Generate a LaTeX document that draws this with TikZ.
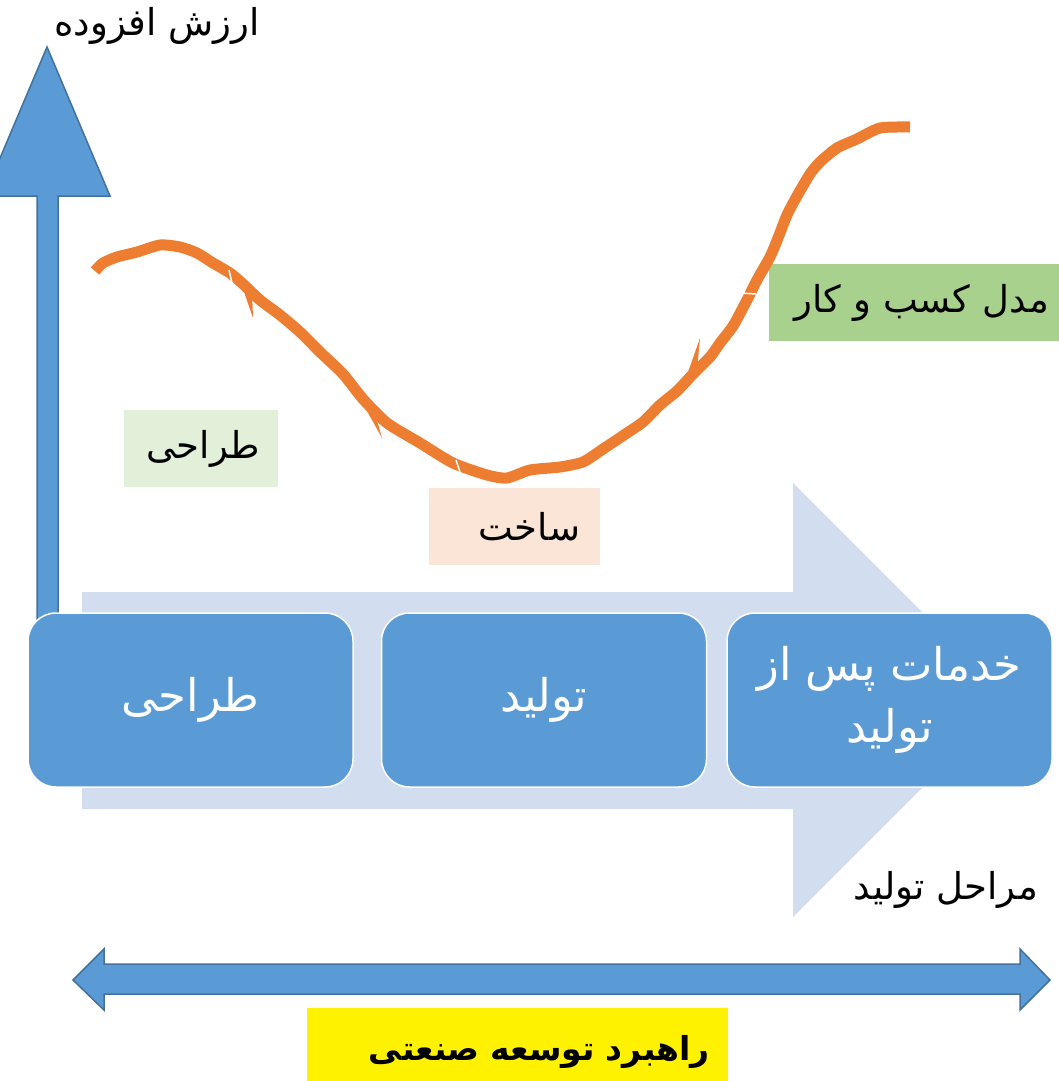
\documentclass[tikz,border=0pt]{standalone}
\usepackage{fontspec}
\newfontfamily\arabicfont[Script=Arabic]{DejaVu Sans}
\TeXXeTstate=1
\definecolor{boxblue}{HTML}{5B9BD5}
\definecolor{edgeblue}{HTML}{41719C}
\definecolor{paleblue}{HTML}{D2DEEF}
\definecolor{curveorange}{HTML}{ED7D31}
\definecolor{leafgreen}{HTML}{A9D18E}
\definecolor{palegreen}{HTML}{E2F0D9}
\definecolor{peach}{HTML}{FBE5D6}

\begin{document}
\begin{tikzpicture}[x=1pt,y=-1pt,
    stagebox/.style={draw=white, line width=1.5pt, fill=boxblue, rounded corners=28pt, minimum width=325pt, minimum height=174pt, text=white, align=center, font=\arabicfont\fontsize{45}{62}\selectfont},
    tagbox/.style={inner sep=0pt, minimum height=77pt, align=right, font=\arabicfont\fontsize{37}{44}\selectfont}]
    \useasboundingbox (0,0) rectangle (1059,1081);
    \clip (0,0) rectangle (1059,1081);
    \fill[paleblue] (82,592) -- (793,592) -- (793,483) -- (1010,700) -- (793,917) -- (793,809) -- (82,809) -- cycle; % stages arrow
    \draw[fill=boxblue, draw=edgeblue, line width=1.5pt] (37,620) -- (37,196) -- (-16,196) -- (47,47) -- (110,196) -- (58,196) -- (58,620); % value axis
    \node[stagebox] (design) at (190.5,700) {\beginR طراحی\endR};
    \node[stagebox] (production) at (544,700) {\beginR تولید\endR};
    \node[stagebox] (aftersales) at (889.5,700) {\beginR خدمات پس از\endR\\\beginR تولید\endR};
    \node[font=\arabicfont\fontsize{37}{44}\selectfont] (stageslabel) at (946,890) {\beginR مراحل تولید\endR};
    \draw[fill=boxblue, draw=edgeblue, line width=1.5pt] (73,980) -- (104,949) -- (104,964) -- (1020,964) -- (1020,949) -- (1050,980) -- (1020,1010) -- (1020,994) -- (104,994) -- (104,1010) -- cycle; % strategy arrow
    \node[fill=yellow, inner sep=0pt, minimum width=421pt, minimum height=82pt, text width=385pt, align=right, text height=30pt, text depth=8pt, font=\arabicfont\bfseries\fontsize{33}{40}\selectfont] (strategy) at (517.5,1049) {\beginR راهبرد توسعه صنعتی\endR};
    \node[tagbox, fill=palegreen, minimum width=154pt, text width=118pt] (designtag) at (201,448.5) {\beginR طراحی\endR};
    \node[tagbox, fill=peach, minimum width=171pt, text width=131pt] (buildtag) at (514.5,526.5) {\beginR ساخت\endR};
    \node[tagbox, fill=leafgreen, minimum width=290pt, text width=270pt] (modeltag) at (914,302.5) {\beginR مدل کسب و کار\endR};
    \node[font=\arabicfont\fontsize{37}{44}\selectfont] (valuelabel) at (157,26) {\beginR ارزش افزوده\endR};
    % value curve
    \draw[curveorange, line width=11pt, line join=round] plot[smooth, tension=0.4] coordinates {(95,271) (103,263) (117,257) (137,252) (160,245) (180,247) (197,253) (213,263) (230,273) (243,284) (260,300) (280,315) (300,332) (320,352) (343,374) (363,399) (387,423) (420,443) (453,463) (487,475) (507,478) (530,470) (560,467) (583,462) (603,449) (627,433) (643,422) (660,405) (677,391) (693,374) (710,357) (720,343) (733,326) (747,300) (757,280) (770,257) (778,238) (787,215) (797,196) (810,174) (820,162) (837,148) (857,139) (880,128) (910,127)};
    \fill[curveorange] (240,280) -- (253,318) -- (252,290) -- cycle; % spikes
    \fill[curveorange] (362,402) -- (382,438) -- (374,410) -- cycle;
    \fill[curveorange] (686,378) -- (700,338) -- (697,370) -- cycle;
    \draw[white, line width=1.5pt] (229,270) -- (232,283); % notches
    \draw[white, line width=1.5pt] (456,460) -- (460,472);
    \draw[white, line width=1.5pt] (741,293) -- (756,294);
\end{tikzpicture}
\end{document}
